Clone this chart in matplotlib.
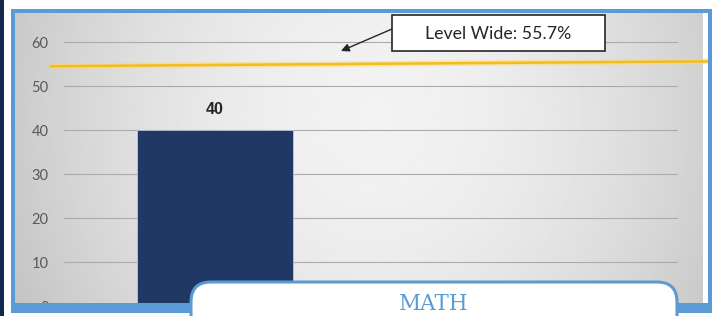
import numpy as np
import matplotlib
matplotlib.use('Agg')
from matplotlib import pyplot as plt
from matplotlib.patches import Rectangle, FancyBboxPatch
from matplotlib.transforms import blended_transform_factory

W, H = 715, 316

subjects = ['MATH', '']
scores = [40, None]
level_wide = 55.7
level_line = [54.5, 55.6]   # the drawn level line is a bit slanted
y_ticks = [0, 10, 20, 30, 40, 50, 60]

BLUE = '#5b9bd5'
NAVY = '#1f3864'

plt.rcParams['font.family'] = ['Lato', 'DejaVu Sans']


def px(x0, y0, x1, y1):
  """pixel box (from top-left) -> figure fraction [l, b, w, h]"""
  return [x0 / W, 1 - y1 / H, (x1 - x0) / W, (y1 - y0) / H]


fig = plt.figure(figsize=(W / 100, H / 100), dpi=100)

# gray gradient chart area
bg = fig.add_axes(px(14, 11, 703, 304))
bg.set_zorder(-1)
gx, gy = np.meshgrid(np.linspace(-1, 1, 300), np.linspace(-1, 1, 140))
r = np.sqrt(((gx - 0.05) / 1.0) ** 2 + ((gy + 0.3) / 2.6) ** 2)
shade = 0.95 - 0.14 * np.clip(r, 0, 1.3) ** 1.8
bg.imshow(shade, cmap='gray', vmin=0, vmax=1, aspect='auto',
  interpolation='bilinear')
bg.axis('off')

ax = fig.add_axes(px(64, 10, 678, 306))
ax.set_facecolor('none')
vals = [s if s is not None else 0 for s in scores]
bars = ax.bar([0], vals[:1], width=0.508, color=NAVY, edgecolor='#c9d3e6',
  linewidth=0.5, zorder=3)
ax.set_xlim(-0.492, 1.508)
ax.set_ylim(0, 296 / 4.4)
ax.set_yticks(y_ticks)
ax.set_yticklabels([str(t) for t in y_ticks])
ax.tick_params(axis='y', length=0, pad=11, labelsize=10.5, labelcolor='#595959')
ax.set_xticks([])
ax.grid(axis='y', color='#ababab', linewidth=0.8, zorder=1)
ax.set_axisbelow(True)
for s in ax.spines.values():
  s.set_visible(False)

for b, v in zip(bars, vals):
  ax.annotate(str(v), (b.get_x() + b.get_width() / 2, v), xytext=(0, 14.5),
    textcoords='offset points', ha='center', va='center',
    fontsize=11.5, fontweight='bold', family='Liberation Sans',
    color='#262626', zorder=4)

# level wide line
tr = blended_transform_factory(ax.transAxes, ax.transData)
ax.plot([-0.023, 1.05], level_line, transform=tr, color='#ffd966',
  linewidth=4, alpha=0.5, clip_on=False, zorder=4, solid_capstyle='butt')
ax.plot([-0.023, 1.05], level_line, transform=tr, color='#f2bd1d',
  linewidth=1.8, clip_on=False, zorder=5, solid_capstyle='butt')

# callout box with arrow
fig.patches.append(Rectangle((392 / W, 1 - 51 / H), 213 / W, 36 / H,
  transform=fig.transFigure, facecolor='white', edgecolor='#262626',
  linewidth=1.2, zorder=6))
fig.text(498 / W, 1 - 34 / H, 'Level Wide: %.1f%%' % level_wide,
  ha='center', va='center', fontsize=12.8, color='#262626', zorder=7)
ax.annotate('', xy=(341, H - 51), xycoords='figure pixels',
  xytext=(392, H - 29), textcoords='figure pixels',
  arrowprops=dict(arrowstyle='-|>', color='#262626', lw=1.0,
    mutation_scale=12, shrinkA=0, shrinkB=0), zorder=7)

# frame
fig.patches.append(Rectangle((0, 0), 3.5 / W, 1, transform=fig.transFigure,
  facecolor='#14284b', edgecolor='none', zorder=8))
for box in [(11, 9, 711, 12.5), (11, 9, 14.5, 312), (708, 9, 711.5, 312),
  (11, 303, 711.5, 312.5)]:
  l, b, w, h = px(*box)
  fig.patches.append(Rectangle((l, b), w, h, transform=fig.transFigure,
    facecolor=BLUE, edgecolor='none', zorder=8))

# subject label tab
l, b, w, h = px(191, 282, 677, 340)
fig.patches.append(FancyBboxPatch((l * W, b * H), w * W, h * H,
  boxstyle='round,pad=0,rounding_size=20', transform=None,
  facecolor='white', edgecolor=BLUE, linewidth=2.2, zorder=9))
fig.text(434 / W, 1 - 304 / H, subjects[0], ha='center', va='center',
  fontsize=15.5, family='DejaVu Serif', color=BLUE, zorder=10)

fig.savefig('out.png', dpi=100)
